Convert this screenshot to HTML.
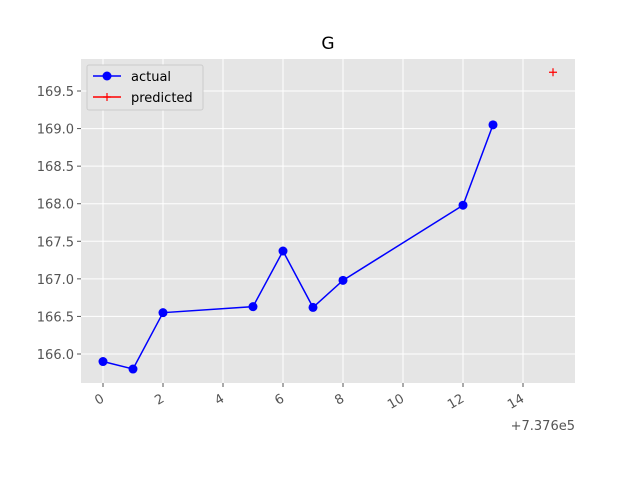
<!DOCTYPE html>
<html><head><meta charset="utf-8"><style>
body{margin:0;background:#fff;}
svg{display:block;font-family:"DejaVu Sans","Liberation Sans",sans-serif;}
</style></head><body>
<svg id="chart" width="640" height="480"></svg>
<script>
const xVals=[0,1,2,5,6,7,8,12,13];
const actual=[165.90,165.80,166.55,166.63,167.37,166.62,166.98,167.98,169.05];
const predX=[15];
const predicted=[169.75];
const xTicks=[0,2,4,6,8,10,12,14];
const yTicks=[166.0,166.5,167.0,167.5,168.0,168.5,169.0,169.5];
const L=81,R=575,T=59,B=383;
const xMin=-0.733,xMax=15.733,yMin=165.614,yMax=169.926;
const sx=v=>L+(v-xMin)/(xMax-xMin)*(R-L);
const sy=v=>B-(v-yMin)/(yMax-yMin)*(B-T);
const NS="http://www.w3.org/2000/svg";
const svg=document.getElementById('chart');
function mk(t,a,p){const e=document.createElementNS(NS,t);for(const k in a)e.setAttribute(k,a[k]);(p||svg).appendChild(e);return e;}
let bg=mk('rect',{x:L,y:T,width:R-L,height:B-T,fill:'#e5e5e5'});


xTicks.forEach(v=>{
 const g=mk('line',{x1:sx(v),x2:sx(v),y1:T,y2:B,stroke:'#fff','stroke-width':1});
 
 
 mk('line',{x1:sx(v),x2:sx(v),y1:B,y2:B+4,stroke:'#555'});
 const t=mk('text',{x:sx(v)+2,y:B+18,'font-size':13,fill:'#555','text-anchor':'end',transform:`rotate(-30 ${sx(v)+2} ${B+18})`});
 t.textContent=v;
 
 
});
yTicks.forEach(v=>{
 const g=mk('line',{x1:L,x2:R,y1:sy(v),y2:sy(v),stroke:'#fff','stroke-width':1});
 
 
 mk('line',{x1:L-4,x2:L,y1:sy(v),y2:sy(v),stroke:'#555'});
 const t=mk('text',{x:L-7,y:sy(v)+5,'font-size':13,fill:'#555','text-anchor':'end'});
 t.textContent=v.toFixed(1);
 
 
});
let off=mk('text',{x:575,y:430,'font-size':13,fill:'#555','text-anchor':'end'});off.textContent='+7.376e5';


let title=mk('text',{x:328,y:49,'font-size':17,fill:'#000','text-anchor':'middle'});title.textContent='G';


let line=mk('polyline',{points:xVals.map((x,i)=>sx(x)+','+sy(actual[i])).join(' '),fill:'none',stroke:'#0000ff','stroke-width':1.5});


xVals.forEach((x,i)=>{
 const c=mk('circle',{cx:sx(x),cy:sy(actual[i]),r:4.5,fill:'#0000ff'});
 
 
});
predX.forEach((x,i)=>{
 const g=mk('path',{d:`M${sx(x)-4},${sy(predicted[i])}h8M${sx(x)},${sy(predicted[i])-4}v8`,stroke:'#ff0000','stroke-width':1.2});
 
 
});
const lg=mk('g',{});


mk('rect',{x:87,y:65,width:116,height:45,fill:'#e5e5e5',stroke:'#ccc',rx:2},lg);
mk('line',{x1:93,x2:121,y1:76,y2:76,stroke:'#0000ff','stroke-width':1.5},lg);
mk('circle',{cx:107,cy:76,r:4.5,fill:'#0000ff'},lg);
let t1=mk('text',{x:131,y:81,'font-size':13,fill:'#000'},lg);t1.textContent='actual';


mk('line',{x1:93,x2:121,y1:97,y2:97,stroke:'#ff0000','stroke-width':1.5},lg);
mk('path',{d:'M103,97h8M107,93v8',stroke:'#ff0000','stroke-width':1.2},lg);
let t2=mk('text',{x:131,y:102,'font-size':13,fill:'#000'},lg);t2.textContent='predicted';


</script>
</body></html>
